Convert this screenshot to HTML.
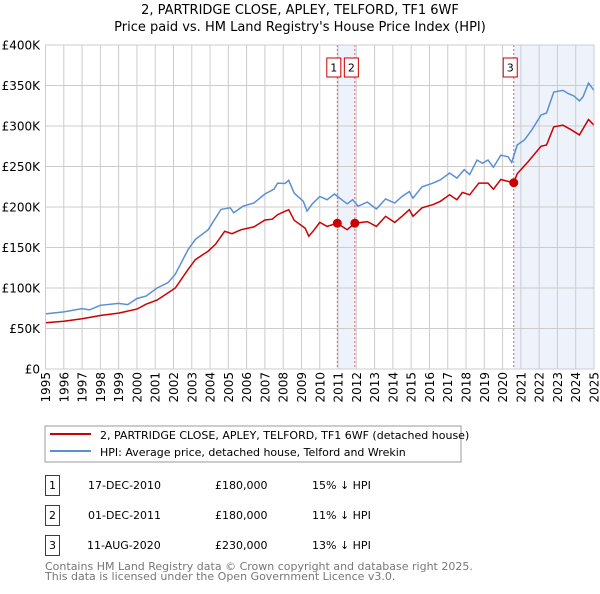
<!DOCTYPE html>
<html><head><meta charset="utf-8"><style>
body{margin:0;background:#fff;font-family:"DejaVu Sans","Liberation Sans",sans-serif;}
svg text{font-family:"DejaVu Sans","Liberation Sans",sans-serif;}
</style></head><body>
<svg id="chart" width="600" height="590" xmlns="http://www.w3.org/2000/svg">
<text x="300" y="14" text-anchor="middle" font-size="13">2, PARTRIDGE CLOSE, APLEY, TELFORD, TF1 6WF</text>
<text x="300" y="31" text-anchor="middle" font-size="13">Price paid vs. HM Land Registry's House Price Index (HPI)</text>
<g id="plot"></g>
<g>
<rect x="45" y="426" width="416" height="36" fill="#fff" stroke="#999"/>
<line x1="50" y1="434" x2="91" y2="434" stroke="#cc0000" stroke-width="2"/>
<text x="100" y="439" font-size="11">2, PARTRIDGE CLOSE, APLEY, TELFORD, TF1 6WF (detached house)</text>
<line x1="50" y1="451" x2="91" y2="451" stroke="#5b8fd4" stroke-width="2"/>
<text x="100" y="456" font-size="11">HPI: Average price, detached house, Telford and Wrekin</text>
</g>
<g font-size="11">
<rect x="45.5" y="475.5" width="14" height="20" fill="none" stroke="#cc0000"/><text x="52.5" y="489" text-anchor="middle">1</text>
<text x="88" y="489">17-DEC-2010</text><text x="215" y="489">£180,000</text><text x="312" y="489">15% ↓ HPI</text>
<rect x="45.5" y="505.5" width="14" height="20" fill="none" stroke="#cc0000"/><text x="52.5" y="519" text-anchor="middle">2</text>
<text x="88" y="519">01-DEC-2011</text><text x="215" y="519">£180,000</text><text x="312" y="519">11% ↓ HPI</text>
<rect x="45.5" y="535.5" width="14" height="20" fill="none" stroke="#cc0000"/><text x="52.5" y="549" text-anchor="middle">3</text>
<text x="87" y="549">11-AUG-2020</text><text x="215" y="549">£230,000</text><text x="312" y="549">13% ↓ HPI</text>
</g>
<text x="45" y="570" font-size="11" fill="#777">Contains HM Land Registry data © Crown copyright and database right 2025.</text>
<text x="45" y="580" font-size="11" fill="#777">This data is licensed under the Open Government Licence v3.0.</text>
</svg>
<script>
const hpiYears=[1995,1996,1997,1997.4,1998,1999,1999.5,2000,2000.5,2001.1,2001.7,2002.1,2002.8,2003.2,2003.9,2004.6,2005.1,2005.3,2005.8,2006.4,2007,2007.5,2007.7,2008.1,2008.3,2008.6,2009.1,2009.3,2009.6,2010,2010.4,2010.8,2011.2,2011.5,2011.8,2012.1,2012.6,2013.1,2013.6,2014.1,2014.5,2014.9,2015.1,2015.6,2016.2,2016.6,2017.1,2017.5,2017.9,2018.2,2018.6,2018.9,2019.2,2019.5,2019.9,2020.3,2020.5,2020.8,2021.2,2021.6,2022.1,2022.4,2022.8,2023.3,2023.6,2023.9,2024.2,2024.4,2024.7,2025];
const hpiValues=[68,70.5,74.6,73,78.7,81,79.5,87,90,100,106.5,117,147.5,160,172,197,199,193,201,205,216,222,229.5,229,233,217,207,195,204,213,209,216,209,204,209,201,206,197.5,210,205,213,219,211,225,229.5,233.6,242,235.7,246,240,258,254,258,249,264,262,255,276.6,283,295,313.5,316,342,344,340,337,331,336,353,344];
const propYears=[1995,1996,1997,1998,1999,2000,2000.5,2001.1,2001.7,2002.1,2002.8,2003.2,2003.9,2004.3,2004.8,2005.2,2005.7,2006.4,2007,2007.4,2007.7,2008.1,2008.3,2008.6,2009.2,2009.4,2009.7,2010,2010.4,2010.96,2011.5,2011.92,2012.6,2013.1,2013.6,2014.1,2014.5,2014.9,2015.1,2015.6,2016.2,2016.6,2017.1,2017.5,2017.8,2018.2,2018.7,2019.2,2019.5,2019.9,2020.3,2020.61,2020.8,2021.4,2022.1,2022.4,2022.8,2023.3,2023.7,2024.2,2024.7,2025];
const propValues=[57,59,62,66,69,74,80,85,94,100,123,135,145.5,154,170,167,172,175.4,184,185,190.6,194.7,196.7,183.6,174,164,172,181,176,180,172,180,182,176,188.5,181,188.5,196.7,188.5,199,203,207,215,209,218,215,229.5,229.5,222,234,231.6,230,241,256,275,276.6,299,301,296,289,308,301];
const saleLabels=["1","2","3"];
const saleYears=[2010.96,2011.92,2020.61];
const saleValues=[180,180,230];
const yTicks=[0,50,100,150,200,250,300,350,400];
const yTickLabels=["£0","£50K","£100K","£150K","£200K","£250K","£300K","£350K","£400K"];
const xTicks=[1995,1996,1997,1998,1999,2000,2001,2002,2003,2004,2005,2006,2007,2008,2009,2010,2011,2012,2013,2014,2015,2016,2017,2018,2019,2020,2021,2022,2023,2024,2025];

const L=45.5,R=594,T=45,B=369,X0=1995,X1=2025,YMAX=400;
const xs=v=>L+(v-X0)/(X1-X0)*(R-L);
const ys=v=>B-v/YMAX*(B-T);
const NS="http://www.w3.org/2000/svg";
const g=document.getElementById('plot');
function mk(tag,attrs,parent){const e=document.createElementNS(NS,tag);for(const k in attrs)e.setAttribute(k,attrs[k]);(parent||g).appendChild(e);return e;}

let e;
e=mk('rect',{x:xs(saleYears[0]),y:T,width:xs(saleYears[1])-xs(saleYears[0]),height:B-T,fill:'#edf2fb'});


e=mk('rect',{x:xs(saleYears[2]),y:T,width:R-xs(saleYears[2]),height:B-T,fill:'#edf2fb'});


xTicks.forEach(t=>{
  e=mk('line',{x1:xs(t),x2:xs(t),y1:T,y2:B,stroke:'#ccc','stroke-width':1});
  
  
  e=mk('text',{x:0,y:0,'font-size':12,'text-anchor':'end',transform:`translate(${xs(t)+4.5},372) rotate(-90)`});
  e.textContent=String(t);
  
  
});
yTicks.forEach((t,i)=>{
  e=mk('line',{x1:L,x2:R,y1:ys(t),y2:ys(t),stroke:'#ccc','stroke-width':1});
  
  
  e=mk('text',{x:40,y:ys(t)+4.5,'font-size':12,'text-anchor':'end'});
  e.textContent=yTickLabels[i];
  
  
});
saleYears.forEach((s,i)=>{
  e=mk('line',{x1:xs(s),x2:xs(s),y1:T,y2:B,stroke:'#e06060','stroke-width':1,'stroke-dasharray':'2,2'});
  
  
  e=mk('rect',{x:xs(s)-10.5,y:58,width:14,height:19,fill:'#fff',stroke:'#cc0000'});
  
  
  e=mk('text',{x:xs(s)-3.5,y:71.5,'font-size':11,'text-anchor':'middle'});
  e.textContent=saleLabels[i];
  
  
});
e=mk('path',{d:hpiYears.map((y,i)=>(i?'L':'M')+xs(y).toFixed(1)+','+ys(hpiValues[i]).toFixed(1)).join(''),fill:'none',stroke:'#5b8fd4','stroke-width':1.5});


e=mk('path',{d:propYears.map((y,i)=>(i?'L':'M')+xs(y).toFixed(1)+','+ys(propValues[i]).toFixed(1)).join(''),fill:'none',stroke:'#cc0000','stroke-width':1.5});


saleYears.forEach((s,i)=>{
  e=mk('circle',{cx:xs(s),cy:ys(saleValues[i]),r:4.5,fill:'#cc0000'});
  
  
});
e=mk('rect',{x:L,y:T,width:R-L,height:B-T,fill:'none',stroke:'#ccc'});


</script>
</body></html>
